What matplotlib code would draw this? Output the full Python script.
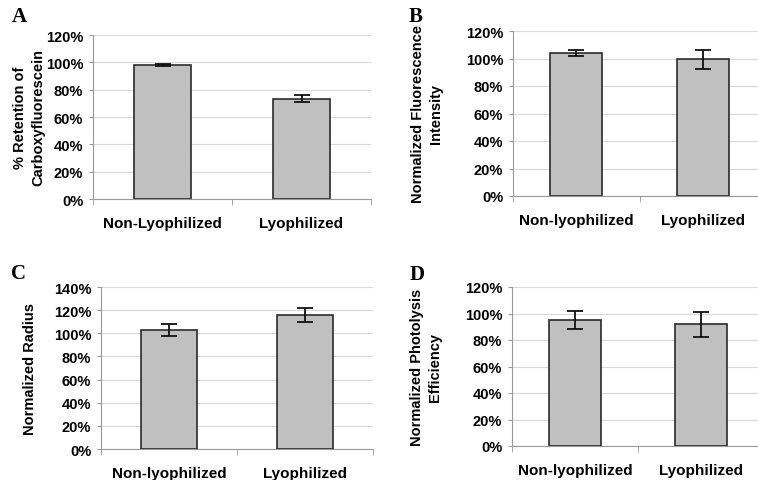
import matplotlib
matplotlib.use("Agg")
import matplotlib.pyplot as plt
from matplotlib.ticker import PercentFormatter

W, H = 758, 481

categories_a = ["Non-Lyophilized", "Lyophilized"]
categories = ["Non-lyophilized", "Lyophilized"]

retention = [98.0, 73.5]
retention_err = [0.8, 2.7]

fluorescence = [104.0, 99.3]
fluorescence_err = [2.3, 6.7]

radius = [102.8, 115.8]
radius_err = [5.3, 5.8]

photolysis = [95.0, 91.7]
photolysis_err = [6.6, 9.4]

plt.rcParams["font.family"] = ["Liberation Sans", "DejaVu Sans"]
plt.rcParams["font.weight"] = "bold"

fig = plt.figure(figsize=(W / 100, H / 100), dpi=100)
fig.patch.set_facecolor("white")


def px_axes(left, right, top, bottom):
    return fig.add_axes([left / W, 1 - bottom / H, (right - left) / W, (bottom - top) / H])


def panel(ax, labels, values, errs, ymax, ylabel, label_x, left_px, right_px):
    xs = [0.5, 1.5]
    ax.bar(xs, values, width=0.41, color="#c0c0c0", edgecolor="#2b2b2b",
           linewidth=1.2, zorder=3)
    ax.errorbar(xs, values, yerr=errs, fmt="none", ecolor="#111111",
                elinewidth=1.3, capsize=6, capthick=1.3, zorder=4)
    ax.set_xlim(0, 2)
    ax.set_ylim(0, ymax)
    ax.set_yticks(range(0, ymax + 1, 20))
    ax.yaxis.set_major_formatter(PercentFormatter(decimals=0))
    ax.grid(axis="y", color="#d9d9d9", linewidth=0.8, zorder=0)
    ax.set_xticks(xs)
    ax.set_xticklabels(labels, fontsize=11, fontweight="bold")
    ax.set_xticks([0, 1, 2], minor=True)
    ax.tick_params(axis="x", which="major", length=0, pad=12)
    ax.tick_params(axis="x", which="minor", length=4, color="#999999", direction="out")
    ax.tick_params(axis="y", length=3, color="#999999", labelsize=10.5, pad=4)
    for t in ax.get_yticklabels():
        t.set_fontweight("bold")
    for side in ["top", "right"]:
        ax.spines[side].set_visible(False)
    for side in ["left", "bottom"]:
        ax.spines[side].set_color("#999999")
        ax.spines[side].set_linewidth(0.8)
    ax.set_ylabel(ylabel, fontsize=10.5, fontweight="bold", linespacing=1.45,
                  va="center", ha="center")
    ax.yaxis.set_label_coords((label_x - left_px) / (right_px - left_px), 0.5)


ax_a = px_axes(93, 371, 36, 200)
panel(ax_a, categories_a, retention, retention_err, 120,
      "% Retention of\nCarboxyfluorescein", 29, 93, 371)

ax_b = px_axes(513, 766, 32, 197)
panel(ax_b, categories, fluorescence, fluorescence_err, 120,
      "Normalized Fluorescence\nIntensity", 427, 513, 766)

ax_c = px_axes(101, 373, 288, 450)
panel(ax_c, categories, radius, radius_err, 140,
      "Normalized Radius", 30, 101, 373)

ax_d = px_axes(512, 764, 288, 447)
panel(ax_d, categories, photolysis, photolysis_err, 120,
      "Normalized Photolysis\nEfficiency", 426, 512, 764)

for letter, x, y in [("A", 19, 17), ("B", 416, 17), ("C", 19, 274), ("D", 417, 275)]:
    fig.text(x / W, 1 - y / H, letter, ha="center", va="center",
             family=["Liberation Serif", "DejaVu Serif"], fontweight="bold", fontsize=15)

fig.savefig("out.png", dpi=100)
